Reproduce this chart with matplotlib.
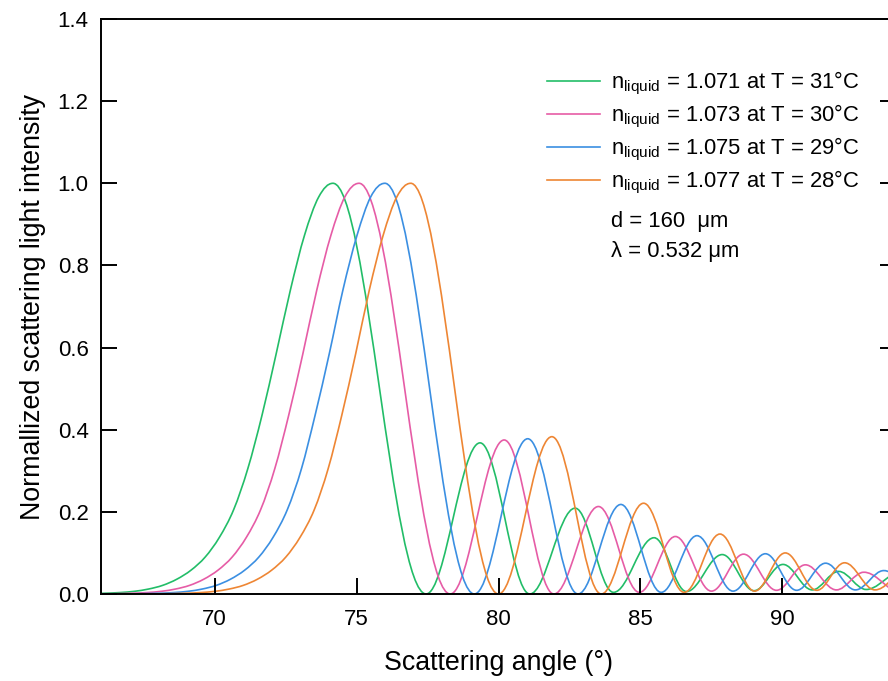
import matplotlib
matplotlib.use('Agg')
import matplotlib.pyplot as plt
import numpy as np
from matplotlib.path import Path
from matplotlib.patches import PathPatch
from matplotlib.lines import Line2D

# Values: rising edge of the main lobe, then alternating
# maxima / minima of the supernumerary fringes.
green_angle = [66.0, 66.67, 67.17, 67.67, 68.17, 68.67, 69.17, 69.67, 70.17, 70.67, 71.17, 71.67, 72.17, 72.67,
               73.17, 73.67, 74.17,
               77.45, 79.35, 81.1, 82.70, 84.05, 85.48, 86.62, 87.88, 89.0, 90.02, 91.05, 91.98, 92.95, 93.85]
green_int = [0.0015, 0.0035, 0.0065, 0.012, 0.021, 0.036, 0.058, 0.09, 0.138, 0.205, 0.305, 0.435, 0.585, 0.74,
             0.874, 0.967, 1.0,
             0.0, 0.368, 0.0, 0.209, 0.004, 0.137, 0.006, 0.096, 0.008, 0.072, 0.01, 0.055, 0.011, 0.046]

pink_angle = [66.0, 66.95, 67.62, 68.12, 68.62, 69.12, 69.62, 70.12, 70.62, 71.12, 71.62, 72.12, 72.61, 73.11,
              73.60, 74.10, 74.59, 75.09,
              78.3, 80.2, 81.95, 83.52, 84.96, 86.23, 87.5, 88.63, 89.79, 90.81, 91.9, 92.87, 93.85]
pink_int = [0.0004, 0.0015, 0.0035, 0.0065, 0.012, 0.021, 0.036, 0.058, 0.09, 0.138, 0.205, 0.305, 0.435, 0.585,
            0.74, 0.874, 0.967, 1.0,
            0.0, 0.375, 0.0, 0.213, 0.004, 0.14, 0.007, 0.097, 0.009, 0.071, 0.01, 0.053, 0.011]

blue_angle = [66.0, 67.0, 67.89, 68.56, 69.06, 69.56, 70.06, 70.56, 71.06, 71.56, 72.06, 72.56, 73.06, 73.54, 74.04,
              74.52, 75.02, 75.50, 76.0,
              79.15, 81.03, 82.8, 84.31, 85.73, 86.99, 88.26, 89.40, 90.5, 91.52, 92.57, 93.57, 94.5]
blue_int = [0.0001, 0.0004, 0.0015, 0.0035, 0.0065, 0.012, 0.021, 0.036, 0.058, 0.09, 0.138, 0.205, 0.305, 0.435,
            0.585, 0.74, 0.874, 0.967, 1.0,
            0.0, 0.378, 0.0, 0.218, 0.004, 0.142, 0.007, 0.098, 0.009, 0.075, 0.01, 0.057, 0.012]

orange_angle = [66.0, 67.9, 68.84, 69.51, 70.01, 70.51, 71.01, 71.51, 72.01, 72.51, 73.01, 73.51, 74.00, 74.48, 74.97,
                75.45, 75.94, 76.42, 76.91,
                80.0, 81.88, 83.62, 85.11, 86.54, 87.8, 89.02, 90.1, 91.21, 92.19, 93.26, 94.2]
orange_int = [0.0, 0.0004, 0.0015, 0.0035, 0.0065, 0.012, 0.021, 0.036, 0.058, 0.09, 0.138, 0.205, 0.305, 0.435,
              0.585, 0.74, 0.874, 0.967, 1.0,
              0.0, 0.383, 0.0, 0.221, 0.004, 0.146, 0.007, 0.10, 0.009, 0.076, 0.01, 0.058]

labels = [r'n$_{\mathregular{liquid}}$ = 1.071 at T = 31°C',
          r'n$_{\mathregular{liquid}}$ = 1.073 at T = 30°C',
          r'n$_{\mathregular{liquid}}$ = 1.075 at T = 29°C',
          r'n$_{\mathregular{liquid}}$ = 1.077 at T = 28°C']
colors = ['#22bd68', '#e65ca6', '#3b8fe2', '#ee8634']


def smooth_path(xs, ys):
    """Bezier path through the read points (slope 0 at maxima/minima)."""
    xs = np.asarray(xs, float)
    ys = np.asarray(ys, float)
    n = len(xs)
    slopes = np.zeros(n)
    flat = np.zeros(n, bool)
    for i in range(n):
        if i == 0:
            slopes[i] = (ys[1] - ys[0]) / (xs[1] - xs[0])
        elif i == n - 1:
            slopes[i] = (ys[-1] - ys[-2]) / (xs[-1] - xs[-2])
        else:
            h0, h1 = xs[i] - xs[i - 1], xs[i + 1] - xs[i]
            d0, d1 = (ys[i] - ys[i - 1]) / h0, (ys[i + 1] - ys[i]) / h1
            if d0 * d1 <= 0:
                flat[i] = True
            else:
                slopes[i] = (d0 * h1 + d1 * h0) / (h0 + h1)
    verts = [(xs[0], ys[0])]
    codes = [Path.MOVETO]
    for i in range(n - 1):
        h = xs[i + 1] - xs[i]
        a = 0.364 if flat[i] else 1 / 3
        b = 0.364 if flat[i + 1] else 1 / 3
        verts += [(xs[i] + a * h, ys[i] + slopes[i] * a * h),
                  (xs[i + 1] - b * h, ys[i + 1] - slopes[i + 1] * b * h),
                  (xs[i + 1], ys[i + 1])]
        codes += [Path.CURVE4] * 3
    return Path(verts, codes)


plt.rcParams['font.family'] = ['Liberation Sans', 'DejaVu Sans']
plt.rcParams['mathtext.fontset'] = 'custom'
plt.rcParams['mathtext.rm'] = 'Liberation Sans'
plt.rcParams['mathtext.it'] = 'Liberation Sans:italic'

fig = plt.figure(figsize=(8.88, 6.81), dpi=100)
# right spine sits just outside the picture, as in the reference
ax = fig.add_axes([101 / 888, 87 / 681, 795 / 888, 575 / 681])

series = [(green_angle, green_int), (pink_angle, pink_int),
          (blue_angle, blue_int), (orange_angle, orange_int)]
for (xs, ys), c in zip(series, colors):
    ax.add_patch(PathPatch(smooth_path(xs, ys), fill=False, edgecolor=c, lw=1.2))

ax.set_xlim(66, 94)
ax.set_ylim(0, 1.4)
ax.set_xticks([70, 75, 80, 85, 90])
ax.set_yticks(np.arange(0, 1.41, 0.2))
ax.yaxis.set_major_formatter(matplotlib.ticker.FormatStrFormatter('%.1f'))
ax.tick_params(direction='in', length=11.5, width=1.4, labelsize=16, pad=9,
               left=True, right=True, bottom=True, top=False)
ax.tick_params(axis='x', pad=11)
for s in ax.spines.values():
    s.set_linewidth(1.4)

ax.set_xlabel('Scattering angle (°)', fontsize=19.3, labelpad=14)
ax.set_ylabel('Normallized scattering light intensity', fontsize=19.3, labelpad=8)

handles = [Line2D([], [], color=c, lw=1.2) for c in colors]
ax.legend(handles, labels, loc='upper left', bbox_to_anchor=(547 / 888, 1 - 70 / 681),
          bbox_transform=fig.transFigure, frameon=False, fontsize=15.8,
          handlelength=2.4, handletextpad=0.5, labelspacing=0.27, borderpad=0, borderaxespad=0)

fig.text(611 / 888, 1 - 222 / 681, 'd = 160  μm', fontsize=15.8, va='center', ha='left')
fig.text(611 / 888, 1 - 251 / 681, 'λ = 0.532 μm', fontsize=15.8, va='center', ha='left')

fig.savefig('out.png', dpi=100)
